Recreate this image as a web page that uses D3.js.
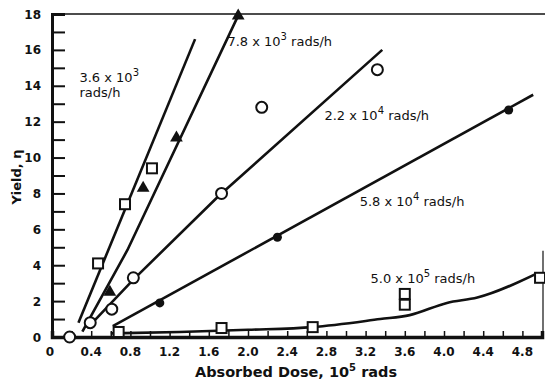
<!DOCTYPE html>
<html><head><meta charset="utf-8">
<script src="https://cdn.jsdelivr.net/npm/d3@7"></script>
<style>
html,body{margin:0;padding:0;background:#fff;}
svg{display:block;}
text{font-family:"DejaVu Sans",sans-serif;fill:#111;}
</style></head>
<body><svg id="c" width="545" height="381"></svg>
<script>
// ---- data ----
const xTickValues = [0,0.4,0.8,1.2,1.6,2.0,2.4,2.8,3.2,3.6,4.0,4.4,4.8];
const xTickLabels = ["0","0.4","0.8","1.2","1.6","2.0","2.4","2.8","3.2","3.6","4.0","4.4","4.8"];
const yTickValues = [0,2,4,6,8,10,12,14,16,18];
const yTickLabels = ["0","2","4","6","8","10","12","14","16","18"];

// 3.6x10^3 rads/h  (open squares)
const s36Points = [[0.47,4.1],[0.745,7.4],[1.02,9.4]];
const s36Line = [[0.27,0.8],[1.46,16.6]];
// 7.8x10^3 rads/h  (filled triangles)
const s78Points = [[0.59,2.5],[0.93,8.3],[1.27,11.1],[1.9,17.9]];
const s78Line = [[0.31,0.3],[0.77,4.85],[1.89,17.8]];
// 2.2x10^4 rads/h  (open circles)
const s22Points = [[0.18,0],[0.39,0.8],[0.61,1.55],[0.83,3.3],[1.73,8.0],[2.14,12.8],[3.32,14.9]];
const s22Line = [[0.36,0.5],[0.83,3.2],[1.69,7.8],[3.37,16.0]];
// 5.8x10^4 rads/h  (filled circles)
const s58Points = [[1.1,1.9],[2.3,5.56],[4.66,12.65]];
const s58Line = [[0.62,0.6],[4.91,13.5]];
// 5.0x10^5 rads/h  (open squares)
const s50Points = [[0.68,0.28],[1.73,0.5],[2.66,0.55],[3.6,2.4],[3.6,1.8],[4.98,3.3]];
const s50Line = [[0.6,0.2],[1.3,0.28],[2.0,0.4],[2.66,0.55],[3.35,1.0],[3.65,1.22],[4.03,1.9],[4.34,2.2],[4.95,3.55]];

const labels = [
  {lines:["3.6 x 10","rads/h"], sup:"3", x:0.28, y:14.2},
  {lines:["7.8 x 10"], sup:"3", tail:" rads/h", x:1.79, y:16.2},
  {lines:["2.2 x 10"], sup:"4", tail:" rads/h", x:2.78, y:12.1},
  {lines:["5.8 x 10"], sup:"4", tail:" rads/h", x:3.14, y:7.3},
  {lines:["5.0 x 10"], sup:"5", tail:" rads/h", x:3.25, y:3.0}
];

// ---- drawing ----
const svg = d3.select("#c");
const x = d3.scaleLinear().domain([0,5]).range([52,542]);
const y = d3.scaleLinear().domain([0,18]).range([337,14]);
const ink = "#111";

// frame
svg.append("line").attr("x1",x(0)).attr("x2",545).attr("y1",y(18)).attr("y2",y(18)).attr("stroke",ink).attr("stroke-width",1.5);
svg.append("line").attr("x1",x(5)+1).attr("x2",x(5)+1).attr("y1",y(4.8)).attr("y2",y(0)).attr("stroke",ink).attr("stroke-width",1.2);

// y axis
const yAxis = d3.axisRight(y).tickValues(d3.range(0,19,1)).tickSize(13).tickFormat("");
const gy = svg.append("g").attr("transform",`translate(${x(0)},0)`).call(yAxis);
gy.select(".domain").attr("stroke",ink).attr("stroke-width",3);
gy.selectAll(".tick line").attr("stroke",ink).attr("stroke-width",2);
svg.append("g").selectAll("text").data(yTickValues).join("text")
  .attr("x",41).attr("y",d=>y(d)+4.5).attr("text-anchor","end")
  .attr("font-size",12).attr("font-weight","bold").text((d,i)=>yTickLabels[i]);

// x axis
const xAxis = d3.axisTop(x).tickValues(d3.range(0,5.01,0.2)).tickSize(6).tickFormat("");
const gx = svg.append("g").attr("transform",`translate(0,${y(0)})`).call(xAxis);
gx.select(".domain").attr("stroke",ink).attr("stroke-width",3.5);
gx.selectAll(".tick line").attr("stroke",ink).attr("stroke-width",1.5);
svg.append("g").selectAll("text").data(xTickValues).join("text")
  .attr("x",d=>x(d)+(d===0?-2:0)).attr("y",356).attr("text-anchor","middle")
  .attr("font-size",12).attr("font-weight","bold").text((d,i)=>xTickLabels[i]);

// axis titles
const xt = svg.append("text").attr("x",296).attr("y",377).attr("text-anchor","middle")
  .attr("font-size",14.5).attr("font-weight","bold");
xt.append("tspan").text("Absorbed Dose, 10");
xt.append("tspan").attr("dy",-6).attr("font-size",10).text("5");
xt.append("tspan").attr("dy",6).text(" rads");
svg.append("text").attr("transform","translate(21,177) rotate(-90)").attr("text-anchor","middle")
  .attr("font-size",13).attr("font-weight","bold").text("Yield, η");

// lines
const lineGen = d3.line().x(d=>x(d[0])).y(d=>y(d[1]));
const curveGen = d3.line().x(d=>x(d[0])).y(d=>y(d[1])).curve(d3.curveMonotoneX);
[s36Line,s78Line,s22Line,s58Line].forEach(L=>{
  svg.append("path").attr("d",lineGen(L)).attr("fill","none").attr("stroke",ink).attr("stroke-width",2.6);
});
svg.append("path").attr("d",curveGen(s50Line)).attr("fill","none").attr("stroke",ink).attr("stroke-width",2.6);

// markers
function squares(pts){
  svg.append("g").selectAll("rect").data(pts).join("rect")
    .attr("x",d=>x(d[0])-5).attr("y",d=>y(d[1])-5).attr("width",10).attr("height",10)
    .attr("fill","#fff").attr("stroke",ink).attr("stroke-width",2);
}
squares(s36Points);
squares(s50Points);
svg.append("g").selectAll("path").data(s78Points).join("path")
  .attr("d",d3.symbol().type(d3.symbolTriangle).size(70))
  .attr("transform",d=>`translate(${x(d[0])},${y(d[1])})`).attr("fill",ink);
svg.append("g").selectAll("circle").data(s22Points).join("circle")
  .attr("cx",d=>x(d[0])).attr("cy",d=>y(d[1])).attr("r",5.5)
  .attr("fill","#fff").attr("stroke",ink).attr("stroke-width",2);
svg.append("g").selectAll("circle").data(s58Points).join("circle")
  .attr("cx",d=>x(d[0])).attr("cy",d=>y(d[1])).attr("r",4.5).attr("fill",ink);

// annotations
labels.forEach(L=>{
  const t = svg.append("text").attr("x",x(L.x)).attr("y",y(L.y)).attr("font-size",13);
  t.append("tspan").text(L.lines[0]);
  t.append("tspan").attr("dy",-6).attr("font-size",10).text(L.sup);
  if(L.tail){ t.append("tspan").attr("dy",6).text(L.tail); }
  if(L.lines[1]){
    svg.append("text").attr("x",x(L.x)).attr("y",y(L.y)+15).attr("font-size",13).text(L.lines[1]);
  }
});
</script>
</body></html>
